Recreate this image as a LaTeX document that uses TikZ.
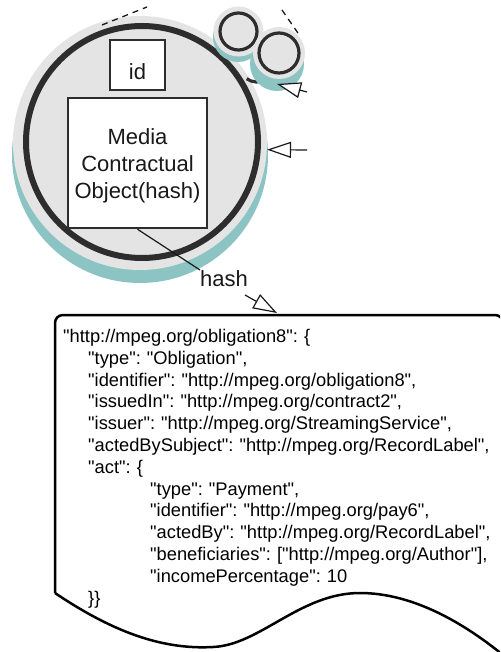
\documentclass[tikz,border=0pt]{standalone}
\usepackage{fontspec}
\setmainfont{Liberation Sans}[Ligatures=TeXOff]
\usetikzlibrary{arrows.meta}
\definecolor{discgrey}{RGB}{228,228,228}
\definecolor{shadowteal}{RGB}{140,196,196}
\definecolor{ringdark}{RGB}{45,45,45}
\definecolor{inkdark}{RGB}{25,25,25}
\frenchspacing
\begin{document}
\begin{tikzpicture}[x=1pt,y=-1pt,
  disc/.style={circle, fill=discgrey, inner sep=0pt},
  shadow/.style={circle, fill=shadowteal, inner sep=0pt},
  bigring/.style={draw=ringdark, line width=6pt},
  smallring/.style={draw=ringdark, line width=3.2pt},
  fieldbox/.style={draw=ringdark, line width=2.5pt, fill=white, inner sep=0pt},
  bigtext/.style={font=\fontsize{22}{27}\selectfont, text=inkdark, align=center, inner sep=0pt},
  thinline/.style={draw=inkdark, line width=1.2pt},
  openarrow/.style={draw=inkdark, line width=1.2pt,
    -{Triangle[length=24pt,width=16pt,fill=white]}},
  guideline/.style={draw=inkdark, line width=1.3pt, dash pattern=on 6pt off 5pt},
  docline/.style={draw=black, line width=2.5pt},
  codetext/.style={font=\fontsize{18.3}{21.8}\selectfont\frenchspacing, text=black,
    text width=440pt, align=left, inner sep=0pt, anchor=north west}
]
\useasboundingbox (0,0) rectangle (500,652);
\clip (0,0) rectangle (500,652);

% contractual object: teal shadow, grey disc and thick ring
\node[shadow, minimum size=256pt] (objshadow) at (140,155) {};
\node[disc, minimum size=254pt] (obj) at (140,143) {};
\draw[bigring] (142,142) circle[radius=116];

% dashed guide lines at the top
\draw[guideline] (102,25) -- (147,7);
\draw[guideline] (282,10) -- (300,36);

% small related objects
\draw[smallring] (257,64) ++(60:18) arc[start angle=60, end angle=125, radius=18];
\node[shadow, minimum size=50pt] (ashadow) at (238,37) {};
\node[disc, minimum size=50pt] (adisc) at (238.5,31.5) {};
\draw[smallring] (adisc.center) circle[radius=18.5];
\node[shadow, minimum size=54pt] (bshadow) at (277,64) {};
\node[disc, minimum size=52pt] (bdisc) at (279,53) {};
\draw[smallring] (bdisc.center) circle[radius=20];

% fields of the object
\node[fieldbox, minimum width=55pt, minimum height=50pt] (idbox) at (137.5,65) {};
\node[bigtext] (idtext) at (137.5,72) {id};
\node[fieldbox, minimum width=139pt, minimum height=130pt] (media) at (137.5,163) {};
\node[bigtext] (mediatext) at (137.5,166) {Media\\Contractual\\Object(hash)};

% hash link
\node[bigtext, anchor=north west] (hash) at (200,270) {hash};
\draw[thinline] (media.south) -- (hash.north west);

% incoming connectors
\coordinate (fromA) at (307,92);
\coordinate (tipA) at (277,84);
\draw[openarrow] (fromA) -- (tipA);
\coordinate (fromB) at (307,150);
\draw[openarrow] (fromB) -- (obj.-3);
\coordinate (fromC) at (245,295);
\coordinate (tipC) at (277,313);
\draw[openarrow] (fromC) -- (tipC);

% obligation document
\draw[docline, rounded corners=8pt] (55,593) -- (55,315) -- (503,315) -- (503,660);
\draw[docline] (55,593) .. controls (110,630) and (160,650) .. (213,647)
  .. controls (260,645) and (300,593) .. (360,593)
  .. controls (410,593) and (460,620) .. (503,655);

\node[codetext] (code) at (63,329) {%
"http://mpeg.org/obligation8": \{\\
\hspace*{25pt}"type": "Obligation",\\
\hspace*{25pt}"identifier": "http://mpeg.org/obligation8",\\
\hspace*{25pt}"issuedIn": "http://mpeg.org/contract2",\\
\hspace*{25pt}"issuer": "http://mpeg.org/StreamingService",\\
\hspace*{25pt}"actedBySubject": "http://mpeg.org/RecordLabel",\\
\hspace*{25pt}"act": \{\\
\hspace*{87pt}"type": "Payment",\\
\hspace*{87pt}"identifier": "http://mpeg.org/pay6",\\
\hspace*{87pt}"actedBy": "http://mpeg.org/RecordLabel",\\
\hspace*{87pt}"beneficiaries": ["http://mpeg.org/Author"],\\
\hspace*{87pt}"incomePercentage": 10\\
\hspace*{25pt}\}\}};
\end{tikzpicture}
\end{document}
